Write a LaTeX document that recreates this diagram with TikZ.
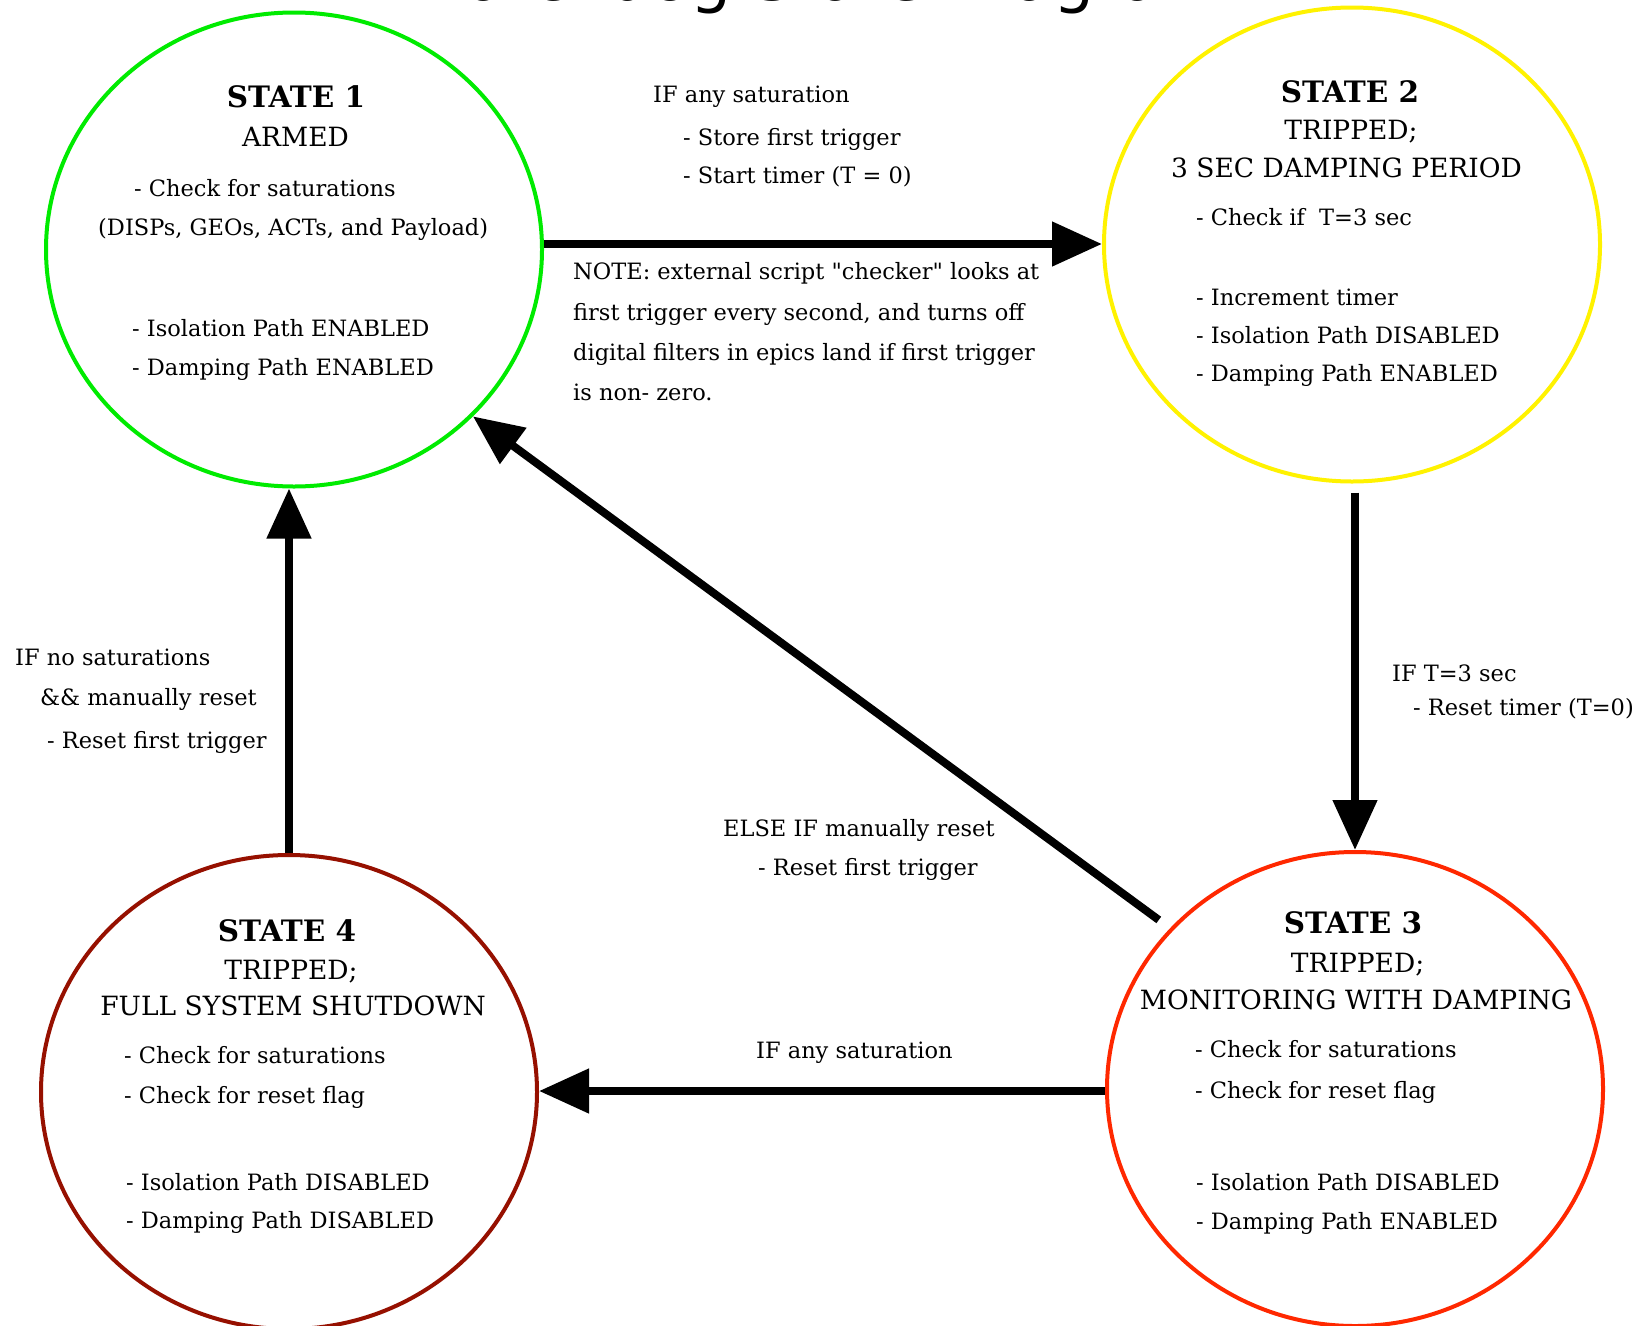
\documentclass[tikz,border=0pt]{standalone}
\usepackage{fontspec}
\newfontfamily\wdtitlefont{DejaVu Sans}
\newfontfamily\wdserif{DejaVu Serif}
\usetikzlibrary{arrows.meta,shapes.geometric}
\newcommand\wdbody{\wdserif\fontsize{22.5}{28}\selectfont}
\newcommand\wdhead{\wdserif\fontsize{26.5}{32}\selectfont}
\newcommand\wdbold{\wdserif\bfseries\fontsize{29.5}{34}\selectfont}
\definecolor{sgreen}{RGB}{0,235,0}
\definecolor{syellow}{RGB}{255,242,0}
\definecolor{sred}{RGB}{255,40,0}
\definecolor{sdark}{RGB}{150,16,0}
\tikzset{
  body/.style={font=\wdbody, anchor=base west, inner sep=0pt},
  hd/.style={font=\wdhead, anchor=base, inner sep=0pt},
  hdb/.style={font=\wdbold, anchor=base, inner sep=0pt},
  state/.style={ellipse, draw, line width=4pt, minimum width=496pt, minimum height=474pt, inner sep=0pt},
  arr/.style={line width=8pt, -{Triangle[length=50pt,width=43pt]}},
}
\begin{document}
\begin{tikzpicture}[x=1pt,y=-1pt]
\useasboundingbox[fill=white] (0,0) rectangle (1638,1325);
% title (mostly above the page)
\node[anchor=base west, inner sep=0pt, font=\wdtitlefont\fontsize{65}{65}\selectfont] (title) at (407,0) {Watchdog State Diagram};
% states
\node[state, draw=sgreen] (s1) at (294,249.5) {};
\node[state, draw=syellow] (s2) at (1352,244.5) {};
\node[state, draw=sred] (s3) at (1355,1089) {};
\node[state, draw=sdark] (s4) at (289,1092) {};
% state 1
\node[hdb] (s1a) at (296,107.3) {STATE 1};
\node[hd] (s1b) at (295.5,146) {ARMED};
\node[body] (s1c) at (134,196.7) {- Check for saturations};
\node[body] (s1d) at (98,235) {(DISPs, GEOs, ACTs, and Payload)};
\node[body] (s1e) at (132,336.7) {- Isolation Path ENABLED};
\node[body] (s1f) at (132,375) {- Damping Path ENABLED};
% state 2
\node[hdb] (s2a) at (1350,102.3) {STATE 2};
\node[hd] (s2b) at (1351,139.3) {TRIPPED;};
\node[hd] (s2c) at (1346.5,177.3) {3 SEC DAMPING PERIOD};
\node[body] (s2d) at (1196,225.7) {- Check if\ \ T=3 sec};
\node[body] (s2e) at (1196,305) {- Increment timer};
\node[body] (s2f) at (1196,343.3) {- Isolation Path DISABLED};
\node[body] (s2g) at (1196,381.7) {- Damping Path ENABLED};
% state 3
\node[hdb] (s3a) at (1353,933.3) {STATE 3};
\node[hd] (s3b) at (1357.6,972.3) {TRIPPED;};
\node[hd] (s3c) at (1356,1009) {MONITORING WITH DAMPING};
\node[body] (s3d) at (1195,1057.3) {- Check for saturations};
\node[body] (s3e) at (1195,1098.3) {- Check for reset flag};
\node[body] (s3f) at (1196,1190.7) {- Isolation Path DISABLED};
\node[body] (s3g) at (1196,1229) {- Damping Path ENABLED};
% state 4
\node[hdb] (s4a) at (287,941.7) {STATE 4};
\node[hd] (s4b) at (291,979) {TRIPPED;};
\node[hd] (s4c) at (293,1015) {FULL SYSTEM SHUTDOWN};
\node[body] (s4d) at (124,1063.3) {- Check for saturations};
\node[body] (s4e) at (124,1103.3) {- Check for reset flag};
\node[body] (s4f) at (126,1190.7) {- Isolation Path DISABLED};
\node[body] (s4g) at (126,1228.3) {- Damping Path DISABLED};
% transition labels
\node[body] (l1a) at (653,102.5) {IF any saturation};
\node[body] (l1b) at (683,145.6) {- Store first trigger};
\node[body] (l1c) at (683,183) {- Start timer (T = 0)};
\node[body] (n1) at (573,279.6) {NOTE: external script "checker" looks at};
\node[body] (n2) at (573,320) {first trigger every second, and turns off};
\node[body] (n3) at (573,360) {digital filters in epics land if first trigger};
\node[body] (n4) at (573,400) {is non- zero.};
\node[body] (l2a) at (1392,681) {IF T=3 sec};
\node[body] (l2b) at (1413,715) {- Reset timer (T=0)};
\node[body] (l3a) at (723,836) {ELSE IF manually reset};
\node[body] (l3b) at (758,875) {- Reset first trigger};
\node[body] (l4a) at (756,1058) {IF any saturation};
\node[body] (l5a) at (15,665) {IF no saturations};
\node[body] (l5b) at (40,705) {\&\& manually reset};
\node[body] (l5c) at (47,748) {- Reset first trigger};
% connectors
\coordinate (row1) at (0,244);
\coordinate (row3) at (0,1091);
\draw[arr] (s1.east |- row1) -- (s2.west |- row1);
\draw[arr, shorten <=9pt] (s3.north |- s2.south) -- (s3.north);
\draw[arr, shorten <=14pt] (s3.139) -- (s1.317);
\draw[arr] (s3.west |- row3) -- (s4.east |- row3);
\draw[arr] (s4.north) -- (s4.north |- s1.south);
\end{tikzpicture}
\end{document}
